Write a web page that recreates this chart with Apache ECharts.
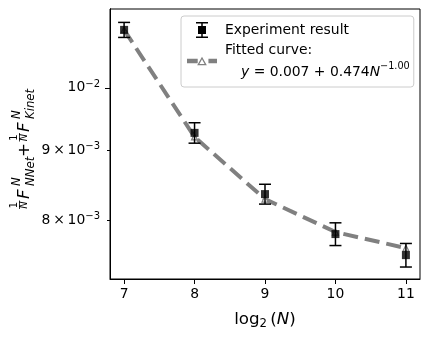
<!DOCTYPE html>
<html>
<head>
<meta charset="utf-8">
<script src="https://cdn.jsdelivr.net/npm/echarts@6/dist/echarts.min.js"></script>
<style>
  html, body { margin: 0; padding: 0; background: #fff; }
  #chart { width: 430px; height: 340px; }
</style>
</head>
<body>
<div id="chart"></div>
<script>
// values (y in absolute units, plotted on a log10 scale)
const xValues = [7, 8, 9, 10, 11];
const measured = [0.01103, 0.009268, 0.008357, 0.007811, 0.007538];
const measuredErr = [0.00014, 0.00016, 0.00014, 0.00015, 0.00015];
const fitted = [0.01103, 0.009205, 0.008287, 0.007838, 0.007628];
const xTicks = [7, 8, 9, 10, 11];
const yMajorTicks = [0.01];
const yMinorTicks = [0.008, 0.009];
const xRange = [6.8, 11.2];
const yRange = [0.00724, 0.011426];

const FONT = 'DejaVu Sans';
const lg = v => Math.log10(v);

const logLabel = value => {
  const exp = Math.floor(value + 1e-9);
  const mant = Math.round(Math.pow(10, value - exp));
  const sup = '{s|\u2212' + (-exp) + '}';
  return mant === 1 ? '10' + sup : mant + '\u2009\u00d7\u200910' + sup;
};

const yAxisBase = {
  type: 'value',
  position: 'left',
  min: lg(yRange[0]),
  max: lg(yRange[1]),
  splitLine: { show: false },
  axisLine: { show: true, lineStyle: { color: '#000', width: 1 } }
};

const labelRich = {
  s: { fontFamily: FONT, fontSize: 10, lineHeight: 12, verticalAlign: 'top', color: '#000' }
};

// small helper for the pieces of the rotated y label
const t = (text, x, y, size, italic, align) => ({
  type: 'text', x, y,
  style: {
    text, fill: '#000',
    font: (italic ? 'italic ' : '') + size + 'px "DejaVu Sans"',
    textAlign: align || 'left', textVerticalAlign: 'middle'
  }
});
const bar = (x1, x2) => ({
  type: 'line', shape: { x1, y1: -11.5, x2, y2: -11.5 },
  style: { stroke: '#000', lineWidth: 0.8 }
});

const chart = echarts.init(document.getElementById('chart'));

chart.setOption({
  animation: false,
  grid: {
    left: 110, right: 10, top: 9, bottom: 61,
    show: true, borderColor: '#000', borderWidth: 1,
    outerBoundsMode: 'none'
  },
  xAxis: {
    type: 'value',
    min: xRange[0],
    max: xRange[1],
    splitLine: { show: false },
    axisLine: { lineStyle: { color: '#000', width: 1 } },
    axisTick: { length: 5, lineStyle: { color: '#000' }, customValues: xTicks },
    axisLabel: {
      customValues: xTicks, margin: 8,
      fontFamily: FONT, fontSize: 13.9, color: '#000'
    },
    name: '{a|log}{b|2}{a|\u2009(}{c|N}{a|)}',
    nameLocation: 'middle',
    nameGap: 31,
    nameTextStyle: {
      rich: {
        a: { fontFamily: FONT, fontSize: 16.7, lineHeight: 20, color: '#000' },
        b: { fontFamily: FONT, fontSize: 11.7, lineHeight: 12, verticalAlign: 'bottom', color: '#000' },
        c: { fontFamily: FONT, fontSize: 16.7, lineHeight: 20, fontStyle: 'italic', color: '#000' }
      }
    }
  },
  yAxis: [
    Object.assign({}, yAxisBase, {
      axisTick: { length: 5, lineStyle: { color: '#000' }, customValues: yMajorTicks.map(lg) },
      axisLabel: {
        customValues: yMajorTicks.map(lg), margin: 10,
        fontFamily: FONT, fontSize: 13.9, lineHeight: 17, color: '#000',
        formatter: logLabel, rich: labelRich
      }
    }),
    Object.assign({}, yAxisBase, {
      axisTick: { length: 3, lineStyle: { color: '#000' }, customValues: yMinorTicks.map(lg) },
      axisLabel: {
        customValues: yMinorTicks.map(lg), margin: 10,
        fontFamily: FONT, fontSize: 13.9, lineHeight: 17, color: '#000',
        formatter: logLabel, rich: labelRich
      }
    })
  ],
  legend: {
    left: 181,
    top: 16,
    orient: 'vertical',
    padding: [5, 4, 4, 6],
    itemGap: 0,
    itemWidth: 30,
    itemHeight: 16,
    backgroundColor: 'rgba(255,255,255,0.8)',
    borderColor: '#cccccc',
    borderWidth: 1,
    borderRadius: 3,
    selectedMode: false,
    data: [
      {
        name: 'Experiment result',
        icon: 'path://M0,0H12V1.5H0Z M5.25,0H6.75V16H5.25Z M2,4H10V12H2Z M0,14.5H12V16H0Z',
        itemStyle: { color: '#000' }
      },
      {
        name: 'Fitted curve',
        icon: 'path://M0,2H10V6H0Z M20,2H28V6H20Z M14,0L18.5,8L9.5,8Z M14,2.4L11.6,6.9L16.4,6.9Z',
        itemStyle: { color: '#808080', borderWidth: 0 }
      }
    ],
    formatter: name => name === 'Fitted curve'
      ? '{t|Fitted curve:}\n{iy|y}{t| = 0.007 + 0.474}{i|N}{s|\u22121.00}'
      : name,
    textStyle: {
      fontFamily: FONT, fontSize: 13.9, lineHeight: 18, color: '#000',
      padding: [0, 0, 0, 3],
      rich: {
        t: { fontFamily: FONT, fontSize: 13.9, lineHeight: 22, color: '#000' },
        iy: { fontFamily: FONT, fontSize: 13.9, lineHeight: 22, fontStyle: 'italic', color: '#000', padding: [0, 0, 0, 16] },
        i: { fontFamily: FONT, fontSize: 13.9, lineHeight: 22, fontStyle: 'italic', color: '#000' },
        s: { fontFamily: FONT, fontSize: 9.7, lineHeight: 16, verticalAlign: 'top', color: '#000' }
      }
    }
  },
  graphic: [
    {
      type: 'group',
      x: 31,
      y: 210,
      rotation: Math.PI / 2,
      silent: true,
      children: [
        t('1', 5, -16.5, 10, false, 'center'),
        bar(1, 9.5),
        t('N', 5, -7, 10, true, 'center'),
        t('F', 11, -6, 16.7, true),
        t('N', 24, -14.5, 11.7, true),
        t('NNet', 24, -0.5, 11.7, true),
        t('+', 60, -6, 16.7, false, 'center'),
        t('1', 72.5, -16.5, 10, false, 'center'),
        bar(68.5, 77),
        t('N', 72.5, -7, 10, true, 'center'),
        t('F', 78, -6, 16.7, true),
        t('N', 91, -14.5, 11.7, true),
        t('Kinet', 91, -0.5, 11.7, true)
      ]
    }
  ],
  series: [
    {
      name: 'Fitted curve',
      type: 'line',
      yAxisIndex: 0,
      z: 2,
      data: xValues.map((x, i) => [x, lg(fitted[i])]),
      symbol: 'triangle',
      symbolSize: 6,
      lineStyle: { color: '#808080', width: 4, type: [15, 7] },
      itemStyle: { color: '#ffffff', borderColor: '#808080', borderWidth: 1.2 }
    },
    {
      name: 'Experiment result',
      type: 'custom',
      yAxisIndex: 0,
      z: 3,
      data: xValues.map((x, i) => [x, lg(measured[i] - measuredErr[i]), lg(measured[i] + measuredErr[i])]),
      encode: { x: 0, y: [1, 2] },
      renderItem: (params, api) => {
        const x = api.value(0);
        const top = api.coord([x, api.value(2)]);
        const bot = api.coord([x, api.value(1)]);
        const hw = 6;
        const style = { stroke: '#000', lineWidth: 1.5 };
        return {
          type: 'group',
          children: [
            { type: 'line', shape: { x1: top[0], y1: top[1], x2: bot[0], y2: bot[1] }, style },
            { type: 'line', shape: { x1: top[0] - hw, y1: top[1], x2: top[0] + hw, y2: top[1] }, style },
            { type: 'line', shape: { x1: bot[0] - hw, y1: bot[1], x2: bot[0] + hw, y2: bot[1] }, style }
          ]
        };
      }
    },
    {
      name: 'Experiment result',
      type: 'scatter',
      yAxisIndex: 0,
      z: 4,
      data: xValues.map((x, i) => [x, lg(measured[i])]),
      symbol: 'rect',
      symbolSize: 8,
      itemStyle: { color: '#000' }
    }
  ]
});
</script>
</body>
</html>
